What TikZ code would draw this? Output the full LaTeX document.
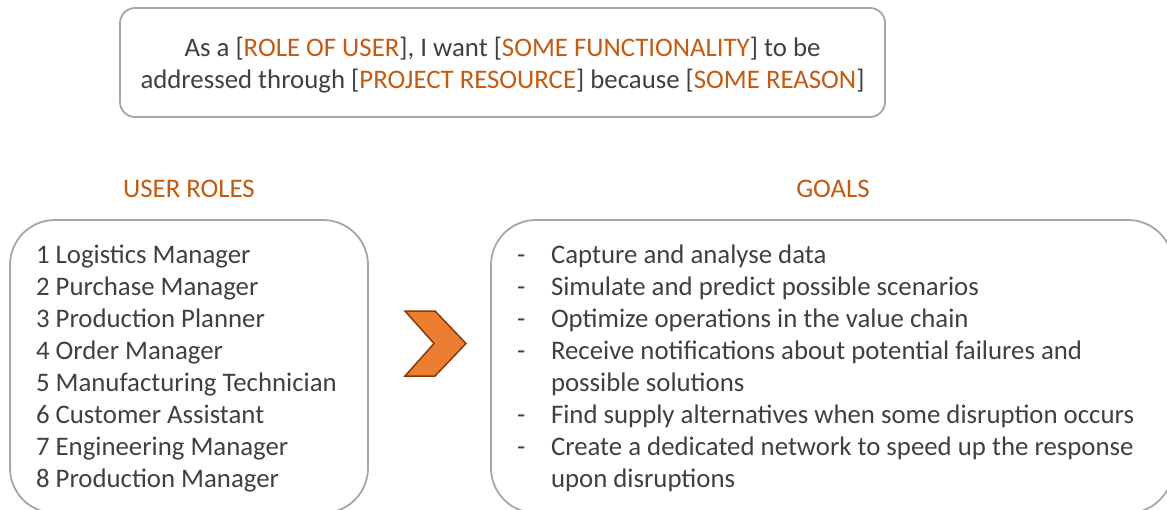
\documentclass[tikz,border=0pt]{standalone}
\usepackage{fontspec}
\setmainfont{Carlito}
\definecolor{txt}{HTML}{404040}
\definecolor{accent}{HTML}{C55A11}
\definecolor{frame}{HTML}{A6A6A6}
\definecolor{chevfill}{HTML}{ED7D31}
\definecolor{chevline}{HTML}{843C0C}
\begin{document}
\begin{tikzpicture}[x=1pt,y=-1pt,
  every node/.style={inner sep=0pt, outer sep=0pt},
  body/.style={font=\fontsize{26.8}{32}\selectfont, text=txt},
  hl/.style={font=\fontsize{26.8}{32}\selectfont, text=accent},
  panel/.style={draw=frame, line width=1.8pt, fill=white},
  item/.style={body, anchor=base west},
  bullet/.style={body, anchor=base west}]
\useasboundingbox (0,0) rectangle (1167,509);
\clip (0,0) rectangle (1167,509);
\fill[white] (0,0) rectangle (1167,509);

% user story template
\node[panel, rounded corners=15pt, minimum width=765pt, minimum height=109pt] (story) at (502.5,62.5) {};
\node[body, anchor=base] (s1) at (502.5,56) {As a [\textcolor{accent}{ROLE OF USER}], I want [\textcolor{accent}{SOME FUNCTIONALITY}] to be};
\node[body, anchor=base] (s2) at (502.5,88) {addressed through [\textcolor{accent}{PROJECT RESOURCE}] because [\textcolor{accent}{SOME REASON}]};

% headings
\node[hl, anchor=base] (hroles) at (189,197) {USER ROLES};
\node[hl, anchor=base] (hgoals) at (833,197) {GOALS};

% panels (their lower edge sits just below the page)
\draw[panel, rounded corners=45pt] (10,220) rectangle (368,513);
\draw[panel, rounded corners=45pt] (491,220) rectangle (1173,513);

% user roles
\node[item] (r1) at (36,263) {1 Logistics Manager};
\node[item] (r2) at (36,295) {2 Purchase Manager};
\node[item] (r3) at (36,327) {3 Production Planner};
\node[item] (r4) at (36,359) {4 Order Manager};
\node[item] (r5) at (36,391) {5 Manufacturing Technician};
\node[item] (r6) at (36,423) {6 Customer Assistant};
\node[item] (r7) at (36,455) {7 Engineering Manager};
\node[item] (r8) at (36,487) {8 Production Manager};

% chevron
\filldraw[fill=chevfill, draw=chevline, line width=1.5pt, line join=miter]
  (405,311) -- (435,311) -- (466,343.5) -- (435,376) -- (405,376) -- (434,343.5) -- cycle;

% goals
\foreach \y/\n in {263/1,295/2,327/3,359/4,423/5,455/6}
  \node[bullet] (d\n) at (517,\y) {-};
\node[item] (g1) at (551,263) {Capture and analyse data};
\node[item] (g2) at (551,295) {Simulate and predict possible scenarios};
\node[item] (g3) at (551,327) {Optimize operations in the value chain};
\node[item] (g4) at (551,359) {Receive notifications about potential failures and};
\node[item] (g4b) at (551,391) {possible solutions};
\node[item] (g5) at (551,423) {Find supply alternatives when some disruption occurs};
\node[item] (g6) at (551,455) {Create a dedicated network to speed up the response};
\node[item] (g6b) at (551,487) {upon disruptions};
\end{tikzpicture}
\end{document}
